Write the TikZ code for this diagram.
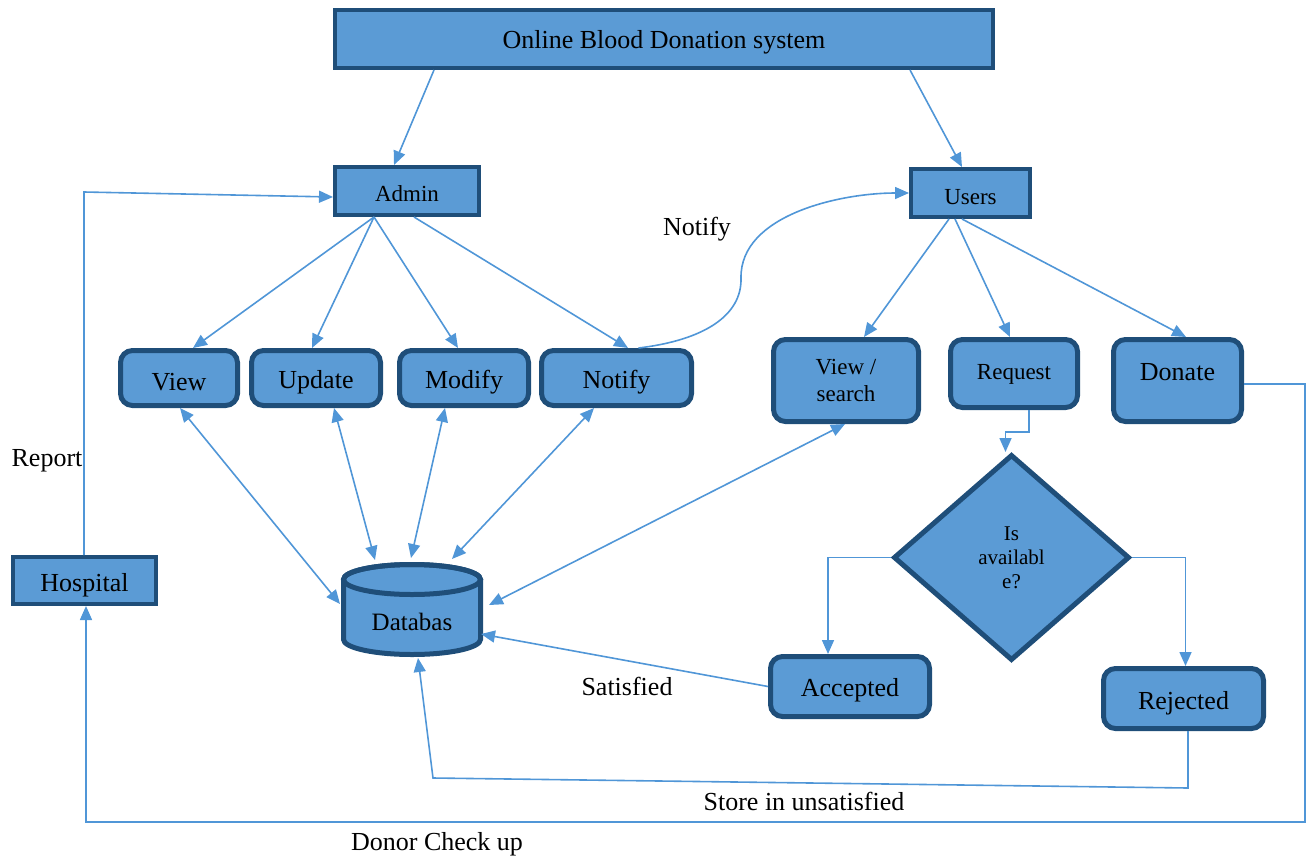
\documentclass[tikz,border=0pt]{standalone}
\usepackage{fontspec}
\setmainfont{Liberation Serif}
\usetikzlibrary{shapes.geometric,arrows.meta,calc}
\definecolor{boxfill}{RGB}{91,155,213}
\definecolor{boxline}{RGB}{31,78,121}
\definecolor{conn}{RGB}{80,150,215}
\newcommand{\lowerby}[2]{\raisebox{-#1}{#2}}
\begin{document}
\begin{tikzpicture}[x=0.5pt,y=-0.5pt,
  sqbox/.style={draw=boxline, fill=boxfill, line width=2pt, inner sep=0pt, font=\fontsize{13}{15}\selectfont},
  rbox/.style={draw=boxline, fill=boxfill, line width=2.5pt, rounded corners=6pt, inner sep=0pt, font=\fontsize{13}{15}\selectfont, text height=13pt},
  arr/.style={draw=conn, line width=0.8pt, -{Triangle[length=7pt,width=6pt]}},
  darr/.style={draw=conn, line width=0.8pt, {Triangle[length=7pt,width=6pt]}-{Triangle[length=7pt,width=6pt]}},
  lbl/.style={font=\fontsize{13}{15}\selectfont, inner sep=0pt},
  small/.style={font=\fontsize{11.5}{13.5}\selectfont}]
\useasboundingbox (0,0) rectangle (1312,857);

% boxes
\node[sqbox, text height=12.2pt, minimum width=329pt, minimum height=29pt] (title) at (664,39) {Online Blood Donation system};
\node[sqbox, small, text height=11pt, minimum width=72pt, minimum height=24pt] (admin) at (407,191) {Admin};
\node[sqbox, small, text height=12pt, minimum width=59.5pt, minimum height=24pt] (users) at (970.5,193) {Users};
\node[sqbox, text height=14pt, minimum width=71.5pt, minimum height=23.5pt] (hospital) at (84.5,580.5) {Hospital};
\node[rbox, minimum width=58.5pt, minimum height=27.5pt] (view) at (179,378) {View};
\node[rbox, minimum width=64.5pt, minimum height=27.5pt] (update) at (316,378) {Update};
\node[rbox, minimum width=64.5pt, minimum height=27.5pt] (modify) at (464,378) {Modify};
\node[rbox, minimum width=75pt, minimum height=27.5pt] (notify) at (616.5,378) {Notify};
\node[draw=boxline, fill=boxfill, line width=2.5pt, rounded corners=6pt, inner sep=0pt, small, align=center, minimum width=72.5pt, minimum height=41pt] (viewsearch) at (846,380.5) {\lowerby{2pt}{View /}\\\lowerby{2pt}{search}};
\node[rbox, small, text height=8pt, minimum width=63.5pt, minimum height=34pt] (request) at (1014,373.5) {Request};
\node[rbox, minimum width=64pt, minimum height=41pt, text height=12pt, text depth=12pt] (donate) at (1177.5,380.5) {Donate};
\node[rbox, minimum width=79.5pt, minimum height=30pt] (accepted) at (850,686.5) {Accepted};
\node[rbox, text height=14pt, minimum width=80pt, minimum height=30pt] (rejected) at (1183.5,698.5) {Rejected};
\node[diamond, draw=boxline, fill=boxfill, line width=2.5pt, inner sep=0pt, minimum width=118pt, minimum height=103pt, align=center, font=\fontsize{10.5}{12}\selectfont] (dia) at (1011.5,557.5) {\lowerby{1pt}{Is}\\\lowerby{1pt}{availabl}\\\lowerby{1pt}{e?}};

% database cylinder
\filldraw[draw=boxline, fill=boxfill, line width=2.5pt] (343.5,579.5) -- (343.5,639.5) arc[start angle=180, end angle=0, x radius=68.5, y radius=15] -- (480.5,579.5) arc[start angle=0, end angle=-180, x radius=68.5, y radius=15] -- cycle;
\draw[draw=boxline, line width=2.5pt] (412,579.5) ellipse[x radius=68.5, y radius=15];
\node[font=\fontsize{12.5}{14}\selectfont, inner sep=0pt] (db) at (412,622) {Databas};

% bend points
\coordinate (rb) at (433,778);
\coordinate (d1) at (1305,384);
\coordinate (d2) at (1305,822);
\coordinate (d3) at (86,822);
\coordinate (h1) at (84,192);

% connectors
\draw[arr] ([shift={(-230,0)}]title.south) -- ([shift={(-13,0)}]admin.north);
\draw[arr] ([shift={(246,0)}]title.south) -- ([shift={(-8.5,0)}]users.north);
\draw[arr] ([shift={(-33,0)}]admin.south) -- ([shift={(14,0)}]view.north);
\draw[arr] ([shift={(-33,0)}]admin.south) -- ([shift={(-4,0)}]update.north);
\draw[arr] ([shift={(-33,0)}]admin.south) -- ([shift={(-6,0)}]modify.north);
\draw[arr] ([shift={(7,0)}]admin.south) -- ([shift={(11.5,0)}]notify.north);
\draw[arr] ([shift={(-21.5,0)}]users.south) -- ([shift={(18,0)}]viewsearch.north);
\draw[arr] ([shift={(-15.5,0)}]users.south) -- ([shift={(-4,0)}]request.north);
\draw[arr] ([shift={(-8.5,0)}]users.south) -- ([shift={(8.5,0)}]donate.north);

\draw[darr] ([shift={(1,0)}]view.south) -- ([shift={(-72,-18)}]db.center);
\draw[darr] ([shift={(18,0)}]update.south) -- ([shift={(-37,-62)}]db.center);
\draw[darr] ([shift={(-19,0)}]modify.south) -- ([shift={(-1,-64)}]db.center);
\draw[darr] ([shift={(-22.5,0)}]notify.south) -- ([shift={(40,-63)}]db.center);
\draw[darr] ([shift={(-1,0)}]viewsearch.south) -- ([shift={(77,-17)}]db.center);
\draw[arr] (accepted.west) -- ([shift={(69,12)}]db.center);

\draw[arr] ([shift={(22,0)}]notify.north) .. controls (705,340) and (742,315) .. (741,278) .. controls (740,215) and (840,193) .. (users.west);

\draw[arr] ([shift={(15,0)}]request.south) -- ++(0,22) -| ([shift={(-6,0)}]dia.north);
\draw[arr] (dia.west) -| ([shift={(-22,0)}]accepted.north);
\draw[arr] (dia.east) -| ([shift={(2,0)}]rejected.north);
\draw[arr] ([shift={(4.5,0)}]rejected.south) -- ++(0,57) -- (rb) -- ([shift={(6,36)}]db.center);
\draw[arr] ([shift={(0,3.5)}]donate.east) -- (d1) -- (d2) -- (d3) -- ([shift={(1.5,0)}]hospital.south);
\draw[arr] ([shift={(-0.5,0)}]hospital.north) -- (h1) -- ([shift={(0,6)}]admin.west);

% labels
\node[lbl] (lnotify) at (697,229) {Notify};
\node[lbl] (lreport) at (47,461) {Report};
\node[lbl] (lsat) at (627,686) {Satisfied};
\node[lbl] (lstore) at (804,801) {Store in unsatisfied};
\node[lbl] (ldonor) at (437,844) {Donor Check up};
\end{tikzpicture}
\end{document}
